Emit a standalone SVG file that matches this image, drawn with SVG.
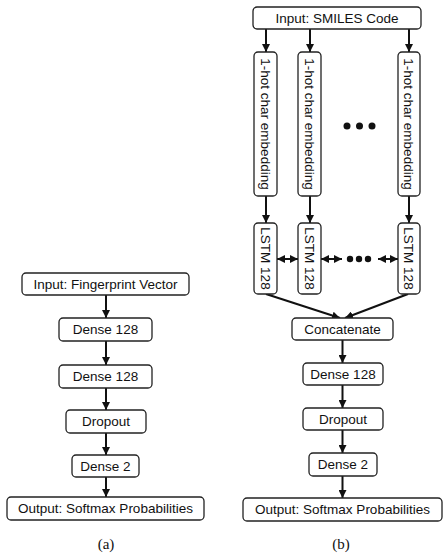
<svg xmlns="http://www.w3.org/2000/svg" width="448" height="558" viewBox="0 0 448 558">
<style>
.box{fill:#fff;stroke:#222;stroke-width:1.3}
.t{font-family:"Liberation Sans",Arial,sans-serif;font-size:13.5px;fill:#111;text-anchor:middle}
.cap{font-family:"Liberation Serif","Times New Roman",serif;font-size:15px;fill:#111;text-anchor:middle}
.ar{stroke:#111;stroke-width:2;fill:none;marker-end:url(#ah)}
.dar{stroke:#111;stroke-width:2;fill:none;marker-end:url(#ah);marker-start:url(#ah)}
.dot{fill:#111}
</style>
<defs>
<marker id="ah" markerUnits="userSpaceOnUse" markerWidth="8" markerHeight="8" refX="8" refY="4" orient="auto-start-reverse">
<path d="M0,0 L8,4 L0,8 z" fill="#111"/>
</marker>
</defs>
<g id="connectors">
<line class="ar" x1="106" y1="295" x2="106" y2="318"/>
<line class="ar" x1="106" y1="341" x2="106" y2="365"/>
<line class="ar" x1="106" y1="388" x2="106" y2="410"/>
<line class="ar" x1="106" y1="433" x2="106" y2="455"/>
<line class="ar" x1="106" y1="477" x2="106" y2="497"/>
<line class="ar" x1="266" y1="29" x2="266" y2="52"/>
<line class="ar" x1="310" y1="29" x2="310" y2="52"/>
<line class="ar" x1="409" y1="29" x2="409" y2="52"/>
<line class="ar" x1="266" y1="196" x2="266" y2="223"/>
<line class="ar" x1="310" y1="196" x2="310" y2="223"/>
<line class="ar" x1="409" y1="196" x2="409" y2="223"/>
<line class="dar" x1="277" y1="259" x2="298" y2="259"/>
<line class="dar" x1="321" y1="259" x2="342" y2="259"/>
<line class="dar" x1="378" y1="259" x2="398" y2="259"/>
<line class="ar" x1="266" y1="294" x2="340" y2="318"/>
<line class="ar" x1="408" y1="294" x2="345" y2="318"/>
<line class="ar" x1="342.5" y1="340" x2="342.5" y2="363"/>
<line class="ar" x1="342.5" y1="385" x2="342.5" y2="408"/>
<line class="ar" x1="342.5" y1="430" x2="342.5" y2="453"/>
<line class="ar" x1="342.5" y1="476" x2="342.5" y2="498"/>
</g>
<g id="dots">
<circle class="dot" cx="347" cy="126" r="3.5"/>
<circle class="dot" cx="359.5" cy="126" r="3.5"/>
<circle class="dot" cx="372" cy="126" r="3.5"/>
<circle class="dot" cx="350" cy="259" r="3.2"/>
<circle class="dot" cx="359" cy="259" r="3.2"/>
<circle class="dot" cx="368" cy="259" r="3.2"/>
</g>
<g id="a_input"><rect class="box" x="22" y="273" width="167" height="22" rx="4"/><text class="t" x="105.5" y="288.8">Input: Fingerprint Vector</text></g>
<g id="a_dense1"><rect class="box" x="59" y="318" width="93" height="23" rx="4"/><text class="t" x="105.5" y="334.3">Dense 128</text></g>
<g id="a_dense2"><rect class="box" x="59" y="365" width="93" height="23" rx="4"/><text class="t" x="105.5" y="381.3">Dense 128</text></g>
<g id="a_dropout"><rect class="box" x="66" y="410" width="80" height="23" rx="4"/><text class="t" x="106" y="426.3">Dropout</text></g>
<g id="a_dense3"><rect class="box" x="72" y="455" width="67" height="22" rx="4"/><text class="t" x="105.5" y="470.8">Dense 2</text></g>
<g id="a_output"><rect class="box" x="7" y="497" width="197" height="23" rx="4"/><text class="t" x="105.5" y="513.3">Output: Softmax Probabilities</text></g>
<text class="cap" x="106" y="549">(a)</text>
<g id="b_input"><rect class="box" x="253" y="7" width="168" height="22" rx="4"/><text class="t" x="337" y="22.8">Input: SMILES Code</text></g>
<g id="b_emb1"><rect class="box" x="254" y="52" width="23" height="144" rx="4"/><text class="t" transform="translate(265.5,124) rotate(90)" y="4.8">1-hot char embedding</text></g>
<g id="b_emb2"><rect class="box" x="298" y="52" width="23" height="144" rx="4"/><text class="t" transform="translate(309.5,124) rotate(90)" y="4.8">1-hot char embedding</text></g>
<g id="b_emb3"><rect class="box" x="398" y="52" width="22" height="144" rx="4"/><text class="t" transform="translate(409,124) rotate(90)" y="4.8">1-hot char embedding</text></g>
<g id="b_lstm1"><rect class="box" x="254" y="223" width="23" height="71" rx="4"/><text class="t" transform="translate(265.5,258.5) rotate(90)" y="4.8">LSTM 128</text></g>
<g id="b_lstm2"><rect class="box" x="298" y="223" width="23" height="71" rx="4"/><text class="t" transform="translate(309.5,258.5) rotate(90)" y="4.8">LSTM 128</text></g>
<g id="b_lstm3"><rect class="box" x="398" y="223" width="22" height="71" rx="4"/><text class="t" transform="translate(409,258.5) rotate(90)" y="4.8">LSTM 128</text></g>
<g id="b_concat"><rect class="box" x="292" y="318" width="101" height="22" rx="4"/><text class="t" x="342.5" y="333.8">Concatenate</text></g>
<g id="b_dense1"><rect class="box" x="303" y="363" width="80" height="22" rx="4"/><text class="t" x="343" y="378.8">Dense 128</text></g>
<g id="b_dropout"><rect class="box" x="303" y="408" width="80" height="22" rx="4"/><text class="t" x="343" y="423.8">Dropout</text></g>
<g id="b_dense2"><rect class="box" x="309" y="453" width="68" height="23" rx="4"/><text class="t" x="343" y="469.3">Dense 2</text></g>
<g id="b_output"><rect class="box" x="243" y="498" width="199" height="23" rx="4"/><text class="t" x="342.5" y="514.3">Output: Softmax Probabilities</text></g>
<text class="cap" x="341" y="549">(b)</text>
</svg>
